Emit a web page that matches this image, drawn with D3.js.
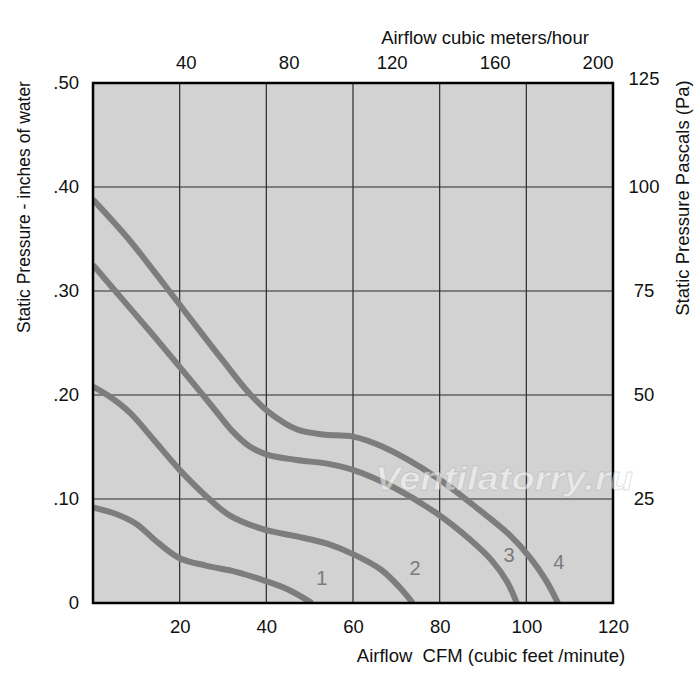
<!DOCTYPE html>
<html>
<head>
<meta charset="utf-8">
<title>Fan curves - static pressure vs airflow</title>
<script src="https://d3js.org/d3.v7.min.js"></script>
<style>
  body { margin: 0; background: #fff; }
  text { font-family: "Liberation Sans", Arial, Helvetica, sans-serif; fill: #111; }
  .curve { fill: none; stroke: #7d7d7d; stroke-width: 6px; stroke-linejoin: round; }
  .grid line { stroke: #2a2a2a; stroke-width: 1.2px; }
</style>
</head>
<body>
<svg width="700" height="683"></svg>
<script>
// fan curves: [CFM, inches of water]
var curve1 = [[0, 0.092], [5, 0.086], [10, 0.076], [15, 0.058], [20, 0.043], [26, 0.036], [33, 0.030], [39.2, 0.022], [45, 0.013], [50.5, 0]];
var curve2 = [[0, 0.208], [4, 0.198], [8.5, 0.183], [14, 0.157], [20, 0.128], [26.3, 0.102], [31.6, 0.084], [39.2, 0.071], [47, 0.064], [54, 0.057], [60, 0.047], [66.5, 0.032], [71, 0.014], [73.8, 0]];
var curve3 = [[0, 0.325], [7, 0.291], [14, 0.257], [21, 0.222], [27.7, 0.188], [32, 0.166], [36, 0.151], [40, 0.143], [47, 0.1375], [54, 0.134], [60, 0.128], [69.2, 0.1115], [79.2, 0.0865], [87, 0.061], [92, 0.041], [95.5, 0.021], [97.8, 0]];
var curve4 = [[0, 0.388], [8, 0.351], [15, 0.314], [22, 0.276], [30, 0.233], [36, 0.202], [41, 0.182], [47, 0.167], [53, 0.162], [60, 0.160], [67, 0.150], [79.2, 0.121], [89.3, 0.089], [96, 0.066], [101, 0.043], [104.5, 0.022], [107.3, 0]];
var curveNames = ["1", "2", "3", "4"];
// where each curve number sits: [CFM, inches]
var labelAt = [[52.8, 0.024], [74.3, 0.034], [96, 0.046], [107.5, 0.039]];

var cfmTicks = [20, 40, 60, 80, 100, 120];
var m3hTicks = [40, 80, 120, 160, 200];
var inchTicks = [0, 0.1, 0.2, 0.3, 0.4, 0.5];
var paTicks = [25, 50, 75, 100, 125];

var margin = { top: 83, right: 87, bottom: 80, left: 93 };
var svg = d3.select("svg");
var width = +svg.attr("width") - margin.left - margin.right;
var height = +svg.attr("height") - margin.top - margin.bottom;

var g = svg.append("g").attr("transform", "translate(" + margin.left + "," + margin.top + ")");

var x = d3.scaleLinear().domain([0, 120]).range([0, width]);
// top scale as printed on the original (slightly off a true 1.699 conversion)
var xTop = d3.scaleLinear().domain([4, 206]).range([0, width]);
var y = d3.scaleLinear().domain([0, 0.5]).range([height, 0]);
var yPa = d3.scaleLinear().domain([0, 125]).range([height, 0]);

g.append("rect")
  .attr("width", width)
  .attr("height", height)
  .attr("fill", "#d2d2d2");

// grid
var grid = g.append("g").attr("class", "grid");
grid.selectAll(".vx")
  .data([20, 40, 60, 80, 100])
  .enter().append("line")
  .attr("x1", d => x(d)).attr("x2", d => x(d))
  .attr("y1", 0).attr("y2", height);
grid.selectAll(".hy")
  .data([0.1, 0.2, 0.3, 0.4])
  .enter().append("line")
  .attr("x1", 0).attr("x2", width)
  .attr("y1", d => y(d)).attr("y2", d => y(d));

// curves
g.append("clipPath").attr("id", "plot")
  .append("rect").attr("width", width).attr("height", height);

var line = d3.line()
  .x(d => x(d[0]))
  .y(d => y(d[1]))
  .curve(d3.curveCatmullRom.alpha(0.5));

g.append("g").attr("clip-path", "url(#plot)")
  .selectAll(".curve")
  .data([curve1, curve2, curve3, curve4])
  .enter().append("path")
  .attr("class", "curve")
  .attr("d", line);

g.selectAll(".clabel")
  .data(labelAt)
  .enter().append("text")
  .attr("class", "clabel")
  .attr("x", d => x(d[0]))
  .attr("y", d => y(d[1]))
  .attr("dy", "0.35em")
  .attr("text-anchor", "middle")
  .attr("font-size", "20px")
  .style("fill", "#7a7a7a")
  .text((d, i) => curveNames[i]);

// frame
g.append("rect")
  .attr("width", width)
  .attr("height", height)
  .attr("fill", "none")
  .attr("stroke", "#000")
  .attr("stroke-width", 2.5);

// watermark
g.append("text")
  .attr("x", x(65.1))
  .attr("y", y(0.1085))
  .attr("font-size", "33px")
  .attr("font-weight", "bold")
  .attr("font-style", "italic")
  .attr("textLength", 258)
  .attr("lengthAdjust", "spacingAndGlyphs")
  .style("fill", "#fff")
  .style("fill-opacity", 0.5)
  .style("stroke", "#9a9a9a")
  .style("stroke-opacity", 0.35)
  .style("stroke-width", 0.8)
  .text("Ventilatorry.ru");

// axes
var fmtIn = d => d === 0 ? "0" : d3.format(".2f")(d).replace(/^0/, "");

var axBottom = g.append("g")
  .attr("transform", "translate(0," + height + ")")
  .call(d3.axisBottom(x).tickValues(cfmTicks).tickSize(0).tickPadding(17));
var axTop = g.append("g")
  .call(d3.axisTop(xTop).tickValues(m3hTicks).tickSize(0).tickPadding(14));
var axLeft = g.append("g")
  .call(d3.axisLeft(y).tickValues(inchTicks).tickFormat(fmtIn).tickSize(0).tickPadding(14));
var axRight = g.append("g")
  .attr("transform", "translate(" + width + ",0)")
  .call(d3.axisRight(yPa).tickValues(paTicks).tickSize(0));

[axBottom, axTop, axLeft, axRight].forEach(function (a) {
  a.select(".domain").remove();
  a.attr("font-family", null).attr("font-size", null);
  a.selectAll("text").attr("font-size", "18.5px").style("fill", "#111");
});
axRight.selectAll("text").attr("text-anchor", "middle").attr("x", 31);
axRight.selectAll(".tick").filter(d => d === 125).select("text").attr("dy", "0.1em");

// titles
svg.append("text")
  .attr("x", 485).attr("y", 44)
  .attr("text-anchor", "middle")
  .attr("font-size", "18.5px")
  .text("Airflow cubic meters/hour");

svg.append("text")
  .attr("x", 491).attr("y", 662)
  .attr("text-anchor", "middle")
  .attr("font-size", "18.5px")
  .attr("xml:space", "preserve")
  .text("Airflow  CFM (cubic feet /minute)");

svg.append("text")
  .attr("transform", "translate(30,207) rotate(-90)")
  .attr("text-anchor", "middle")
  .attr("font-size", "17.5px")
  .text("Static Pressure - inches of water");

svg.append("text")
  .attr("transform", "translate(689,198) rotate(-90)")
  .attr("text-anchor", "middle")
  .attr("font-size", "18.5px")
  .text("Static Pressure Pascals (Pa)");
</script>
</body>
</html>
